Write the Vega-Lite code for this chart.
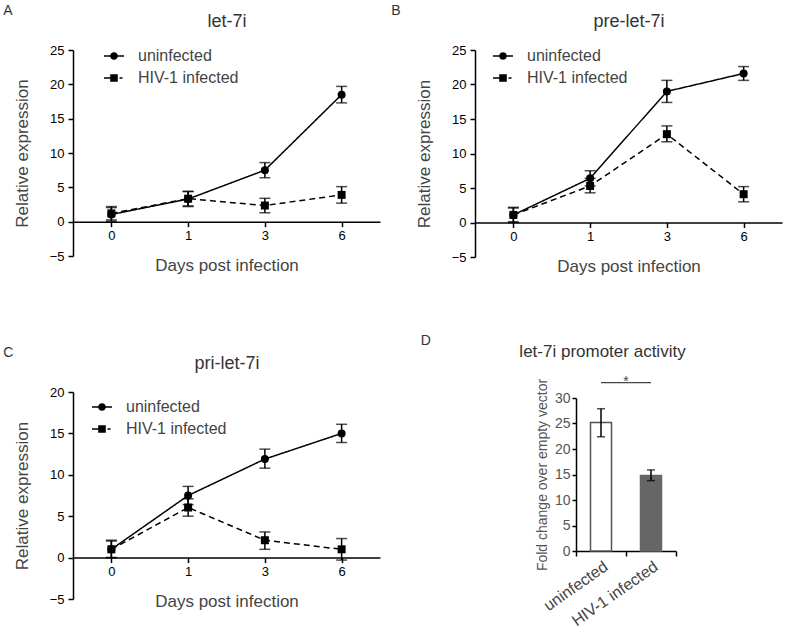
{
  "$schema": "https://vega.github.io/schema/vega-lite/v6.json",
  "padding": {"left": 3, "top": 4, "right": 5, "bottom": 5},
  "spacing": 59,
  "datasets": {
    "a": [
      {"day": "0", "group": "uninfected", "mean": 1.05, "lo": 0.05, "hi": 2.05},
      {"day": "1", "group": "uninfected", "mean": 3.3, "lo": 2.2, "hi": 4.4},
      {"day": "3", "group": "uninfected", "mean": 7.5, "lo": 6.4, "hi": 8.6},
      {"day": "6", "group": "uninfected", "mean": 18.5, "lo": 17.3, "hi": 19.7},
      {"day": "0", "group": "HIV-1 infected", "mean": 1.2, "lo": 0.25, "hi": 2.2},
      {"day": "1", "group": "HIV-1 infected", "mean": 3.35, "lo": 2.3, "hi": 4.4},
      {"day": "3", "group": "HIV-1 infected", "mean": 2.35, "lo": 1.3, "hi": 3.4},
      {"day": "6", "group": "HIV-1 infected", "mean": 3.9, "lo": 2.7, "hi": 5.1}
    ],
    "b": [
      {"day": "0", "group": "uninfected", "mean": 1.1, "lo": 0.0, "hi": 2.2},
      {"day": "1", "group": "uninfected", "mean": 6.4, "lo": 5.3, "hi": 7.5},
      {"day": "3", "group": "uninfected", "mean": 19.0, "lo": 17.4, "hi": 20.6},
      {"day": "6", "group": "uninfected", "mean": 21.6, "lo": 20.6, "hi": 22.6},
      {"day": "0", "group": "HIV-1 infected", "mean": 1.1, "lo": 0.1, "hi": 2.1},
      {"day": "1", "group": "HIV-1 infected", "mean": 5.3, "lo": 4.3, "hi": 6.4},
      {"day": "3", "group": "HIV-1 infected", "mean": 12.8, "lo": 11.7, "hi": 14.0},
      {"day": "6", "group": "HIV-1 infected", "mean": 4.1, "lo": 3.0, "hi": 5.2}
    ],
    "c": [
      {"day": "0", "group": "uninfected", "mean": 1.0, "lo": 0.0, "hi": 2.0},
      {"day": "1", "group": "uninfected", "mean": 7.5, "lo": 6.4, "hi": 8.6},
      {"day": "3", "group": "uninfected", "mean": 11.9, "lo": 10.8, "hi": 13.1},
      {"day": "6", "group": "uninfected", "mean": 15.0, "lo": 13.9, "hi": 16.1},
      {"day": "0", "group": "HIV-1 infected", "mean": 1.0, "lo": 0.0, "hi": 2.1},
      {"day": "1", "group": "HIV-1 infected", "mean": 6.05, "lo": 5.0, "hi": 7.1},
      {"day": "3", "group": "HIV-1 infected", "mean": 2.1, "lo": 1.0, "hi": 3.1},
      {"day": "6", "group": "HIV-1 infected", "mean": 1.0, "lo": -0.3, "hi": 2.3}
    ],
    "d": [
      {"group": "uninfected", "mean": 25.2, "lo": 22.4, "hi": 27.9},
      {"group": "HIV-1 infected", "mean": 14.8, "lo": 13.8, "hi": 15.9}
    ],
    "dsig": [
      {"from": "uninfected", "to": "HIV-1 infected", "level": 33, "label": "*"}
    ]
  },
  "vconcat": [
    {
      "spacing": 11,
      "hconcat": [
        {
          "width": 307, "height": 206,
          "title": {"text": "A", "anchor": "start", "frame": "bounds", "fontSize": 14, "dx": -10, "offset": -6},
          "data": {"name": "a"},
          "encoding": {
            "x": {"field": "day", "type": "ordinal", "scale": {"type": "point", "padding": 0.5, "domain": ["0", "1", "3", "6"]}, "axis": null},
            "y": {"field": "mean", "type": "quantitative", "title": "Relative expression", "scale": {"domain": [-5, 25], "nice": false, "zero": false},
              "axis": {"values": [-5, 0, 5, 10, 15, 20, 25], "labelOverlap": false, "tickSize": 5, "labelPadding": 4, "titlePadding": 18}}
          },
          "layer": [
            {"mark": {"type": "errorbar", "thickness": 1.5, "color": "black", "ticks": {"size": 11, "thickness": 1.5, "color": "black"}},
             "encoding": {
               "y": {"field": "lo", "type": "quantitative", "title": "Relative expression", "scale": {"domain": [-5, 25], "nice": false, "zero": false},
                 "axis": {"values": [-5, 0, 5, 10, 15, 20, 25], "labelOverlap": false, "tickSize": 5, "labelPadding": 4, "titlePadding": 18}},
               "y2": {"field": "hi"}}},
            {"mark": {"type": "line", "color": "black", "strokeWidth": 1.5},
             "encoding": {
               "x": {"field": "day", "type": "ordinal", "scale": {"type": "point", "padding": 0.5, "domain": ["0", "1", "3", "6"]},
                 "axis": {"title": "Days post infection", "offset": -34.33, "labelAngle": 0, "tickSize": 5, "labelPadding": 3, "titlePadding": 15}},
               "strokeDash": {"field": "group", "type": "nominal", "scale": {"domain": ["uninfected", "HIV-1 infected"], "range": [[1, 0], [6, 4]]}, "legend": null}}},
            {"mark": {"type": "point", "filled": true, "size": 64, "color": "black", "opacity": 1},
             "encoding": {
               "x": {"field": "day", "type": "ordinal", "scale": {"type": "point", "padding": 0.5, "domain": ["0", "1", "3", "6"]},
                 "axis": {"orient": "top", "title": "let-7i", "domain": false, "ticks": false, "labels": false, "titleFontSize": 18, "titleColor": "#333", "titlePadding": 20}},
               "shape": {"field": "group", "type": "nominal", "scale": {"domain": ["uninfected", "HIV-1 infected"], "range": ["circle", "square"]}, "legend": null}}},
            {"mark": {"type": "point", "filled": true, "size": 0.01, "color": "black", "opacity": 1},
             "encoding": {
               "shape": {"field": "group", "type": "nominal", "scale": {"domain": ["uninfected", "HIV-1 infected"], "range": [
                 "M-1,-0.075L1,-0.075L1,0.075L-1,0.075Z M0.38,0A0.38,0.38,0,1,1,-0.38,0A0.38,0.38,0,1,1,0.38,0Z",
                 "M-1,-0.075L-0.38,-0.075L-0.38,0.075L-1,0.075Z M-0.38,-0.38L0.38,-0.38L0.38,0.38L-0.38,0.38Z M0.55,-0.075L0.85,-0.075L0.85,0.075L0.55,0.075Z"]},
                 "legend": {"title": null, "orient": "none", "legendX": 31, "legendY": -4}}}}
          ],
          "resolve": {"axis": {"x": "independent"}, "scale": {"shape": "independent"}}
        },
        {
          "width": 307, "height": 207,
          "title": {"text": "B", "anchor": "start", "frame": "bounds", "fontSize": 14, "dx": -24, "offset": -6},
          "data": {"name": "b"},
          "encoding": {
            "x": {"field": "day", "type": "ordinal", "scale": {"type": "point", "padding": 0.5, "domain": ["0", "1", "3", "6"]}, "axis": null},
            "y": {"field": "mean", "type": "quantitative", "title": "Relative expression", "scale": {"domain": [-5, 25], "nice": false, "zero": false},
              "axis": {"values": [-5, 0, 5, 10, 15, 20, 25], "labelOverlap": false, "tickSize": 5, "labelPadding": 4, "titlePadding": 18}}
          },
          "layer": [
            {"mark": {"type": "errorbar", "thickness": 1.5, "color": "black", "ticks": {"size": 11, "thickness": 1.5, "color": "black"}},
             "encoding": {
               "y": {"field": "lo", "type": "quantitative", "title": "Relative expression", "scale": {"domain": [-5, 25], "nice": false, "zero": false},
                 "axis": {"values": [-5, 0, 5, 10, 15, 20, 25], "labelOverlap": false, "tickSize": 5, "labelPadding": 4, "titlePadding": 18}},
               "y2": {"field": "hi"}}},
            {"mark": {"type": "line", "color": "black", "strokeWidth": 1.5},
             "encoding": {
               "x": {"field": "day", "type": "ordinal", "scale": {"type": "point", "padding": 0.5, "domain": ["0", "1", "3", "6"]},
                 "axis": {"title": "Days post infection", "offset": -34.5, "labelAngle": 0, "tickSize": 5, "labelPadding": 3, "titlePadding": 15}},
               "strokeDash": {"field": "group", "type": "nominal", "scale": {"domain": ["uninfected", "HIV-1 infected"], "range": [[1, 0], [6, 4]]}, "legend": null}}},
            {"mark": {"type": "point", "filled": true, "size": 64, "color": "black", "opacity": 1},
             "encoding": {
               "x": {"field": "day", "type": "ordinal", "scale": {"type": "point", "padding": 0.5, "domain": ["0", "1", "3", "6"]},
                 "axis": {"orient": "top", "title": "pre-let-7i", "domain": false, "ticks": false, "labels": false, "titleFontSize": 18, "titleColor": "#333", "titlePadding": 20}},
               "shape": {"field": "group", "type": "nominal", "scale": {"domain": ["uninfected", "HIV-1 infected"], "range": ["circle", "square"]}, "legend": null}}},
            {"mark": {"type": "point", "filled": true, "size": 0.01, "color": "black", "opacity": 1},
             "encoding": {
               "shape": {"field": "group", "type": "nominal", "scale": {"domain": ["uninfected", "HIV-1 infected"], "range": [
                 "M-1,-0.075L1,-0.075L1,0.075L-1,0.075Z M0.38,0A0.38,0.38,0,1,1,-0.38,0A0.38,0.38,0,1,1,0.38,0Z",
                 "M-1,-0.075L-0.38,-0.075L-0.38,0.075L-1,0.075Z M-0.38,-0.38L0.38,-0.38L0.38,0.38L-0.38,0.38Z M0.55,-0.075L0.85,-0.075L0.85,0.075L0.55,0.075Z"]},
                 "legend": {"title": null, "orient": "none", "legendX": 18, "legendY": -4}}}}
          ],
          "resolve": {"axis": {"x": "independent"}, "scale": {"shape": "independent"}}
        }
      ]
    },
    {
      "spacing": 40,
      "hconcat": [
        {
          "width": 307, "height": 207,
          "title": {"text": "C", "anchor": "start", "frame": "bounds", "fontSize": 14, "dx": -10, "offset": -6},
          "data": {"name": "c"},
          "encoding": {
            "x": {"field": "day", "type": "ordinal", "scale": {"type": "point", "padding": 0.5, "domain": ["0", "1", "3", "6"]}, "axis": null},
            "y": {"field": "mean", "type": "quantitative", "title": "Relative expression", "scale": {"domain": [-5, 20], "nice": false, "zero": false},
              "axis": {"values": [-5, 0, 5, 10, 15, 20], "labelOverlap": false, "tickSize": 5, "labelPadding": 4, "titlePadding": 18}}
          },
          "layer": [
            {"mark": {"type": "errorbar", "thickness": 1.5, "color": "black", "ticks": {"size": 11, "thickness": 1.5, "color": "black"}},
             "encoding": {
               "y": {"field": "lo", "type": "quantitative", "title": "Relative expression", "scale": {"domain": [-5, 20], "nice": false, "zero": false},
                 "axis": {"values": [-5, 0, 5, 10, 15, 20], "labelOverlap": false, "tickSize": 5, "labelPadding": 4, "titlePadding": 18}},
               "y2": {"field": "hi"}}},
            {"mark": {"type": "line", "color": "black", "strokeWidth": 1.5},
             "encoding": {
               "x": {"field": "day", "type": "ordinal", "scale": {"type": "point", "padding": 0.5, "domain": ["0", "1", "3", "6"]},
                 "axis": {"title": "Days post infection", "offset": -41.4, "labelAngle": 0, "tickSize": 5, "labelPadding": 3, "titlePadding": 15}},
               "strokeDash": {"field": "group", "type": "nominal", "scale": {"domain": ["uninfected", "HIV-1 infected"], "range": [[1, 0], [6, 4]]}, "legend": null}}},
            {"mark": {"type": "point", "filled": true, "size": 64, "color": "black", "opacity": 1},
             "encoding": {
               "x": {"field": "day", "type": "ordinal", "scale": {"type": "point", "padding": 0.5, "domain": ["0", "1", "3", "6"]},
                 "axis": {"orient": "top", "title": "pri-let-7i", "domain": false, "ticks": false, "labels": false, "titleFontSize": 18, "titleColor": "#333", "titlePadding": 20}},
               "shape": {"field": "group", "type": "nominal", "scale": {"domain": ["uninfected", "HIV-1 infected"], "range": ["circle", "square"]}, "legend": null}}},
            {"mark": {"type": "point", "filled": true, "size": 0.01, "color": "black", "opacity": 1},
             "encoding": {
               "shape": {"field": "group", "type": "nominal", "scale": {"domain": ["uninfected", "HIV-1 infected"], "range": [
                 "M-1,-0.075L1,-0.075L1,0.075L-1,0.075Z M0.38,0A0.38,0.38,0,1,1,-0.38,0A0.38,0.38,0,1,1,0.38,0Z",
                 "M-1,-0.075L-0.38,-0.075L-0.38,0.075L-1,0.075Z M-0.38,-0.38L0.38,-0.38L0.38,0.38L-0.38,0.38Z M0.55,-0.075L0.85,-0.075L0.85,0.075L0.55,0.075Z"]},
                 "legend": {"title": null, "orient": "none", "legendX": 19, "legendY": 5}}}}
          ],
          "resolve": {"axis": {"x": "independent"}, "scale": {"shape": "independent"}}
        },
        {
          "width": 100, "height": 159,
          "title": {"text": "D", "anchor": "start", "frame": "bounds", "fontSize": 14, "dx": -98, "offset": -6},
          "data": {"name": "d"},
          "layer": [
            {"mark": {"type": "rule", "opacity": 0},
             "encoding": {"x": {"field": "group", "type": "nominal", "sort": null, "scale": {"domain": ["uninfected", "HIV-1 infected"], "paddingInner": 0, "paddingOuter": 0},
               "axis": {"orient": "top", "title": "let-7i promoter activity", "domain": false, "ticks": false, "labels": false, "titleFontSize": 17, "titleColor": "#333", "titlePadding": 32, "titleX": 26}}}},
            {"mark": {"type": "bar", "size": 21, "strokeWidth": 1.5},
             "encoding": {
               "x": {"field": "group", "type": "nominal", "sort": null, "axis": {"title": null, "labelAngle": -35, "labelAlign": "right", "labelBaseline": "top", "labelFontSize": 16, "labelColor": "#444", "tickBand": "extent", "tickSize": 5, "labelPadding": 2}},
               "y": {"field": "mean", "type": "quantitative", "title": "Fold change over empty vector", "scale": {"domain": [0, 30], "range": [159, 6], "nice": false, "zero": true},
                 "axis": {"values": [0, 5, 10, 15, 20, 25, 30], "labelOverlap": false, "labelFontSize": 14, "labelColor": "#555", "titleFontSize": 14, "titleColor": "#555", "tickSize": 4, "labelPadding": 2, "titlePadding": 5}},
               "fill": {"field": "group", "type": "nominal", "scale": {"domain": ["uninfected", "HIV-1 infected"], "range": ["white", "#666666"]}, "legend": null},
               "stroke": {"field": "group", "type": "nominal", "scale": {"domain": ["uninfected", "HIV-1 infected"], "range": ["#555555", "#666666"]}, "legend": null}
             }},
            {"mark": {"type": "errorbar", "thickness": 1.5, "color": "black", "ticks": {"size": 8, "thickness": 1.5, "color": "black"}},
             "encoding": {"x": {"field": "group", "type": "nominal", "sort": null, "axis": null},
               "y": {"field": "lo", "type": "quantitative", "title": "Fold change over empty vector", "scale": {"domain": [0, 30], "range": [159, 6], "nice": false},
                 "axis": {"values": [0, 5, 10, 15, 20, 25, 30], "labelOverlap": false, "labelFontSize": 14, "labelColor": "#555", "titleFontSize": 14, "titleColor": "#555", "tickSize": 4, "labelPadding": 2, "titlePadding": 5}},
               "y2": {"field": "hi"}}},
            {"data": {"name": "dsig"}, "mark": {"type": "rule", "color": "#444", "strokeWidth": 1.2},
             "encoding": {"x": {"field": "from", "type": "nominal", "axis": null, "bandPosition": 0.5},
               "x2": {"field": "to", "bandPosition": 0.5},
               "y": {"field": "level", "type": "quantitative", "title": "Fold change over empty vector", "scale": {"domain": [0, 30], "range": [159, 6], "nice": false},
                 "axis": {"values": [0, 5, 10, 15, 20, 25, 30], "labelOverlap": false, "labelFontSize": 14, "labelColor": "#555", "titleFontSize": 14, "titleColor": "#555", "tickSize": 4, "labelPadding": 2, "titlePadding": 5}}}},
            {"data": {"name": "dsig"}, "mark": {"type": "text", "fontSize": 14, "color": "#444", "baseline": "alphabetic", "dy": 3},
             "encoding": {"x": {"field": "to", "type": "nominal", "axis": null, "bandPosition": 0},
               "y": {"field": "level", "type": "quantitative", "title": "Fold change over empty vector", "scale": {"domain": [0, 30], "range": [159, 6], "nice": false},
                 "axis": {"values": [0, 5, 10, 15, 20, 25, 30], "labelOverlap": false, "labelFontSize": 14, "labelColor": "#555", "titleFontSize": 14, "titleColor": "#555", "tickSize": 4, "labelPadding": 2, "titlePadding": 5}},
               "text": {"field": "label"}}}
          ],
          "resolve": {"axis": {"x": "independent"}}
        }
      ]
    }
  ],
  "config": {
    "font": "Liberation Sans",
    "view": {"stroke": null},
    "axis": {"grid": false, "labelOverlap": false, "domainColor": "black", "tickColor": "black", "domainWidth": 1.5, "tickWidth": 1.5, "labelColor": "black", "labelFontSize": 13, "titleColor": "#444", "titleFontSize": 17, "titleFontWeight": "normal"},
    "title": {"fontWeight": "normal", "color": "#333"},
    "legend": {"symbolSize": 400, "labelFontSize": 16, "labelColor": "#444", "labelOffset": 14, "rowPadding": 4, "padding": 0, "symbolStrokeWidth": 0}
  }
}
